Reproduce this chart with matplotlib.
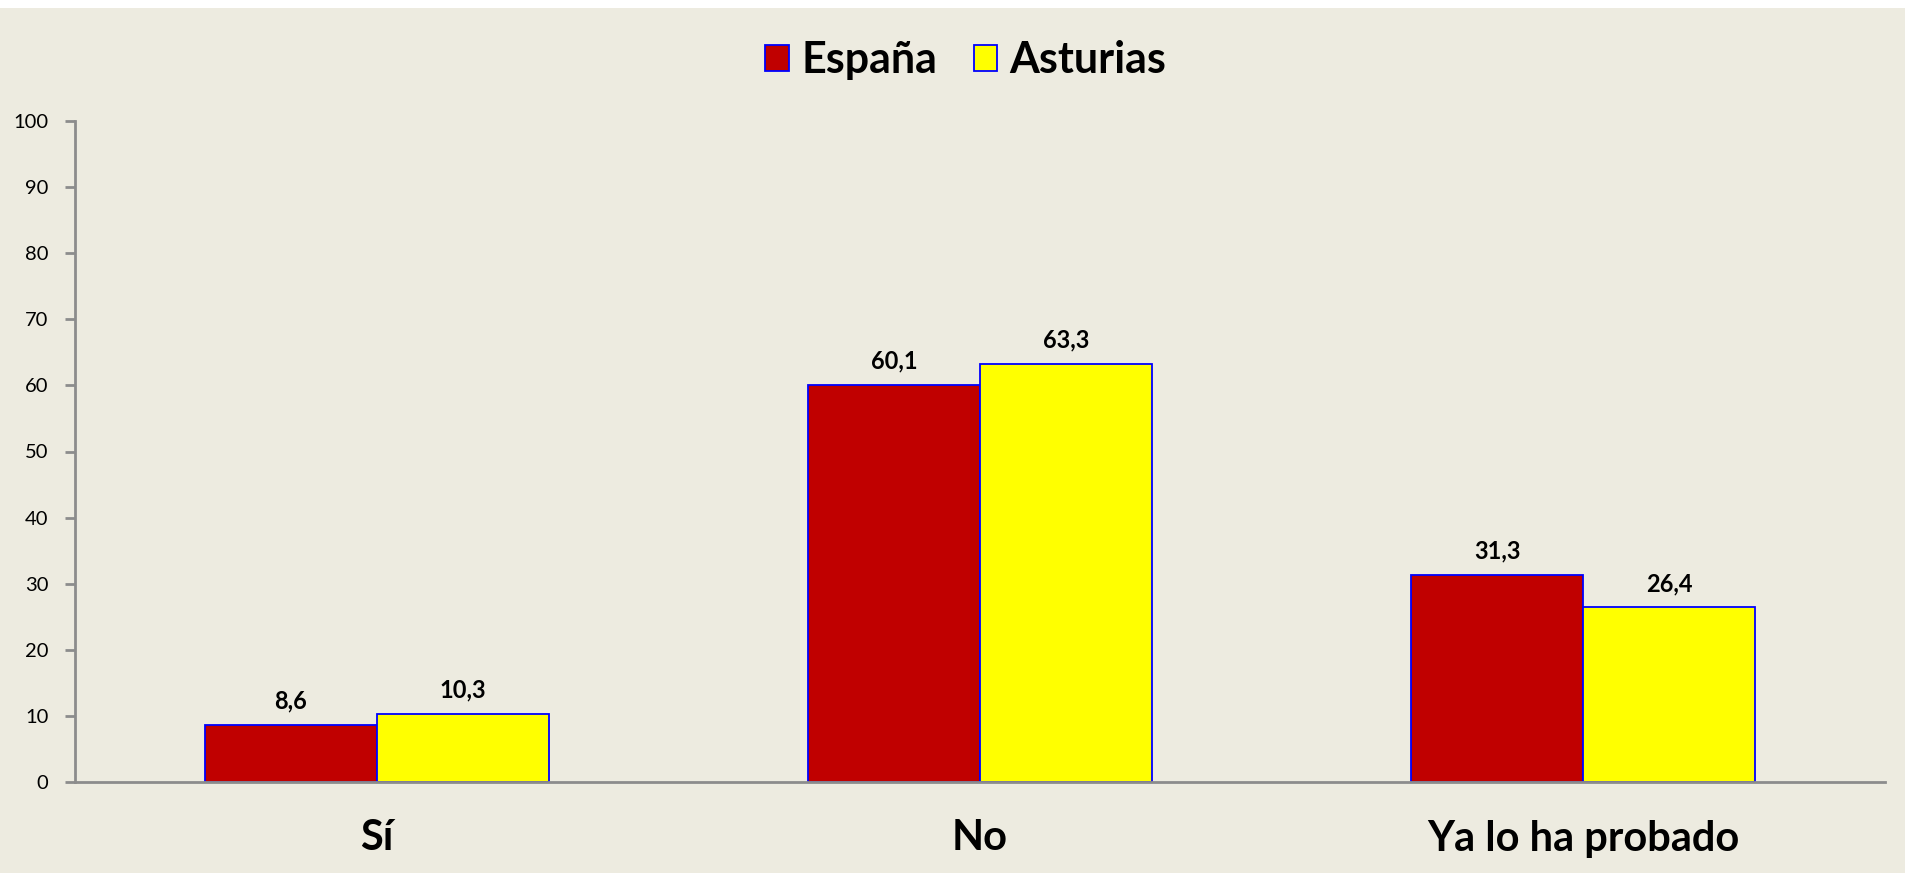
import matplotlib
matplotlib.use("Agg")
import matplotlib.pyplot as plt
from matplotlib.patches import Patch, Rectangle
import numpy as np

plt.rcParams['font.family'] = ['Lato', 'DejaVu Sans']

categories = ["Sí", "No", "Ya lo ha probado"]
series_names = ["España", "Asturias"]
espana = [8.6, 60.1, 31.3]
asturias = [10.3, 63.3, 26.4]
y_ticks = [0, 10, 20, 30, 40, 50, 60, 70, 80, 90, 100]

bg = "#EDEBE0"
colors = ["#C00000", "#FFFF00"]
edge = "#0000FF"
axis_gray = "#8C8C8C"

fig = plt.figure(figsize=(19.05, 8.73), dpi=100)
fig.patch.set_facecolor("white")
# Panel background, leaving a thin white strip at the top
fig.add_artist(Rectangle((0, 0), 1, 1 - 8 / 873, transform=fig.transFigure,
                         facecolor=bg, edgecolor="none", zorder=-10))

ax = fig.add_axes([75 / 1905, 91 / 873, 1810 / 1905, 661 / 873])
ax.set_facecolor("none")

x = np.arange(len(categories))
w = 0.285
bars1 = ax.bar(x - w / 2, espana, w, color=colors[0], edgecolor=edge, linewidth=1.3)
bars2 = ax.bar(x + w / 2, asturias, w, color=colors[1], edgecolor=edge, linewidth=1.3)

for bars, vals in ((bars1, espana), (bars2, asturias)):
    for b, v in zip(bars, vals):
        ax.annotate(f"{v:.1f}".replace(".", ","),
                    (b.get_x() + b.get_width() / 2, v),
                    xytext=(0, 9), textcoords="offset points",
                    ha="center", va="bottom", fontsize=17, fontweight="bold")

ax.set_xlim(-0.5, len(categories) - 0.5)
ax.set_ylim(0, 100)
ax.set_yticks(y_ticks)
ax.set_yticklabels([str(t) for t in y_ticks], fontsize=14.5)
ax.set_xticks(x)
ax.set_xticklabels(categories, fontsize=30, fontweight="bold")
ax.tick_params(axis="x", length=0, pad=27)
ax.tick_params(axis="y", length=7, width=2, color=axis_gray, pad=12, direction="out")

for s in ("top", "right"):
    ax.spines[s].set_visible(False)
for s in ("left", "bottom"):
    ax.spines[s].set_color(axis_gray)
    ax.spines[s].set_linewidth(2)

handles = [Patch(facecolor=c, edgecolor=edge, linewidth=1.3) for c in colors]
fig.legend(handles, series_names, loc="center", bbox_to_anchor=(0.507, 1 - 60 / 873),
           ncol=2, frameon=False, prop={"size": 31, "weight": "bold"},
           handlelength=0.55, handleheight=0.55, handletextpad=0.28,
           columnspacing=0.85)

fig.savefig("out.png", dpi=100, facecolor=fig.get_facecolor())
